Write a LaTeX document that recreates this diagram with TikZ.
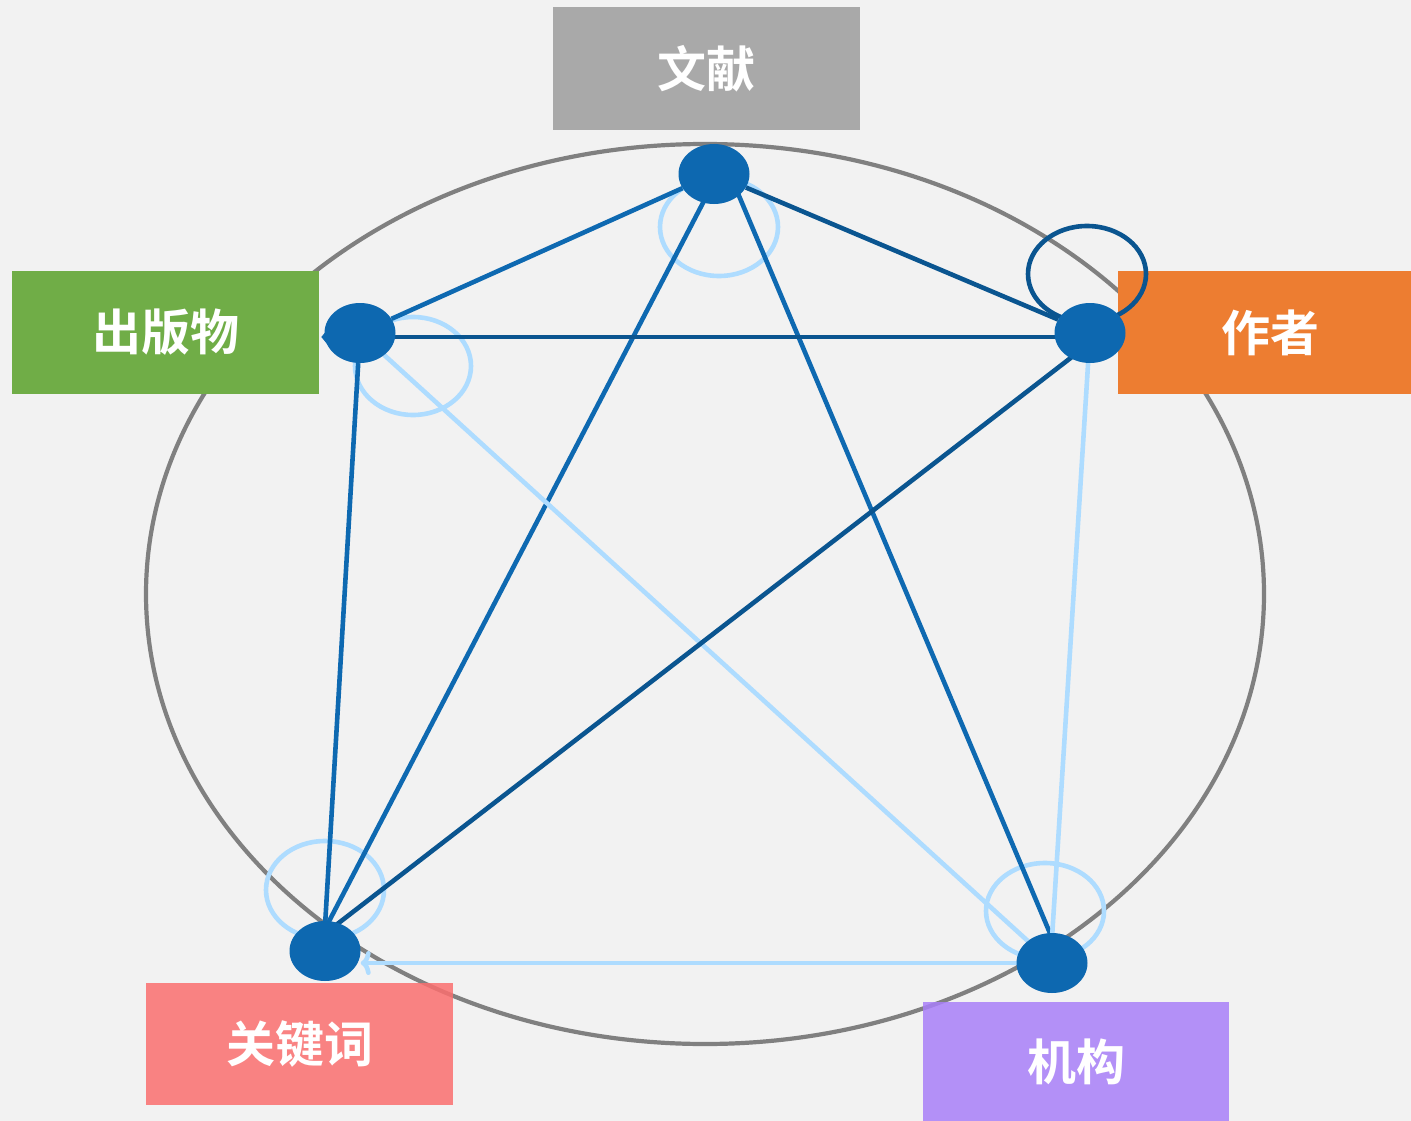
\documentclass[tikz,border=0pt]{standalone}
\usepackage{fontspec}
\newfontfamily\cjk[BoldFont={Noto Sans CJK SC Bold}]{Noto Sans CJK SC}
\usetikzlibrary{arrows.meta,shapes.geometric}
\definecolor{bgc}{HTML}{F2F2F2}
\definecolor{ringc}{HTML}{808080}
\definecolor{dotc}{HTML}{0D68B0}
\definecolor{midc}{HTML}{0E69B1}
\definecolor{darkc}{HTML}{0A5590}
\definecolor{lightc}{HTML}{AEDCFF}
\definecolor{grayboxc}{HTML}{A9A9A9}
\definecolor{greenc}{HTML}{70AD47}
\definecolor{orangec}{HTML}{ED7D31}
\definecolor{pinkc}{HTML}{FB6F6F}
\definecolor{purplec}{HTML}{A97FF9}
\pgfdeclarelayer{ringlayer}
\pgfdeclarelayer{boxlayer}
\pgfdeclarelayer{looplayer}
\pgfdeclarelayer{edgelayer}
\pgfsetlayers{ringlayer,boxlayer,looplayer,edgelayer,main}
\tikzset{
  dot/.style={ellipse, fill=dotc, minimum width=71pt, minimum height=60pt, inner sep=0pt},
  label box/.style={rectangle, inner sep=0pt, text=white, font=\cjk\bfseries\fontsize{49}{49}\selectfont},
  midedge/.style={draw=midc, line width=4.6pt},
  darkedge/.style={draw=darkc, line width=4.6pt},
  lightedge/.style={draw=lightc, line width=4.6pt},
  lightloop/.style={draw=lightc, line width=4.6pt},
  darkloop/.style={draw=darkc, line width=4.6pt},
}
\begin{document}
\begin{tikzpicture}[x=1pt,y=-1pt]
\useasboundingbox (0,0) rectangle (1411,1121);
\begin{pgfonlayer}{ringlayer}
\fill[bgc] (0,0) rectangle (1411,1121);
\draw[ringc, line width=4.2pt] (705,594) ellipse [x radius=559, y radius=450];
\end{pgfonlayer}
\begin{pgfonlayer}{boxlayer}
\node[label box, fill=grayboxc, minimum width=307pt, minimum height=123pt] (lit) at (706.5,68.5) {文献};
\node[label box, fill=greenc, minimum width=307pt, minimum height=123pt] (pubbox) at (165.5,332.5) {出版物};
\node[label box, fill=orangec, minimum width=305pt, minimum height=123pt] (authbox) at (1270.5,332.5) {作者};
\node[label box, fill=pinkc, fill opacity=0.85, text opacity=1, minimum width=307pt, minimum height=122pt] (kwbox) at (299.5,1044) {关键词};
\node[label box, fill=purplec, fill opacity=0.85, text opacity=1, minimum width=306pt, minimum height=119pt] (orgbox) at (1076,1061.5) {机构};
\end{pgfonlayer}
% nodes
\node[dot] (top) at (714,174) {};
\node[dot] (pub) at (360,333) {};
\node[dot] (auth) at (1090,333) {};
\node[dot] (kw) at (325,951) {};
\node[dot] (org) at (1052,963) {};
\begin{pgfonlayer}{looplayer}
\draw[lightloop] (719,227) ellipse [x radius=59, y radius=49];
\draw[lightloop] (413,366) ellipse [x radius=58, y radius=49];
\draw[lightloop] (325,890) ellipse [x radius=59, y radius=49];
\draw[lightloop] (1045,911) ellipse [x radius=59, y radius=48];
\draw[darkloop] (1087,274) ellipse [x radius=59, y radius=48];
\end{pgfonlayer}
\begin{pgfonlayer}{edgelayer}
\draw[midedge] (top) -- (pub);
\draw[darkedge] (top) -- (auth);
\draw[midedge] ([xshift=4pt]top.center) -- ([yshift=22pt]kw.center);
\draw[midedge] ([xshift=20pt,yshift=-10pt]top.center) -- ([yshift=25pt]org.center);
\draw[darkedge, -{Triangle[length=11pt,width=26pt,color=dotc]}] ([yshift=-4pt]auth.center) -- ([xshift=-3pt,yshift=-4pt]pub.west);
\draw[midedge] (pub) -- ([yshift=25pt]kw.center);
\draw[lightedge] (pub) -- (org);
\draw[darkedge] ([yshift=-10pt]auth.center) -- ([xshift=2pt,yshift=19pt]kw.center);
\draw[lightedge] (auth) -- ([yshift=25pt]org.center);
\draw[lightedge, -{To[length=10pt,width=24pt]}] (org.center) -- (org.center -| kw.east);
\end{pgfonlayer}
\end{tikzpicture}
\end{document}
